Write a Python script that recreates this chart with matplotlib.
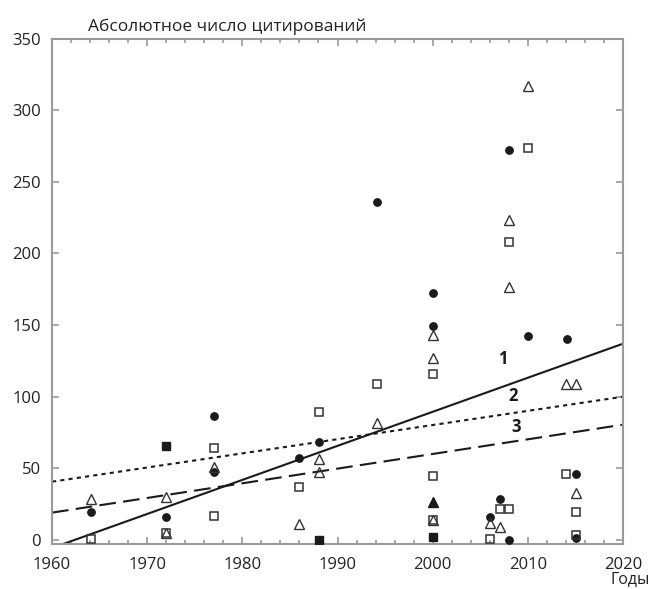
import matplotlib
matplotlib.use("Agg")
import matplotlib.pyplot as plt
from matplotlib.ticker import MultipleLocator

plt.rcParams["font.family"] = ["Open Sans", "DejaVu Sans"]

# --- data -----------------------------------------------------------------

CIRCLE_YEARS = [1964.1, 1972.0, 1977.0, 1977.0, 1986.0, 1988.1, 1994.1, 2000.0, 2000.0,
                2006.0, 2007.1, 2008.0, 2008.0, 2010.0, 2014.1, 2015.1, 2015.1]
CIRCLE_VALUES = [19.4, 16.3, 86.7, 47.8, 56.9, 68.5, 236.0, 172.1, 149.3,
                 16.3, 28.5, 272.2, 0.0, 142.7, 140.3, 46.2, 1.2]

SQUARE_YEARS = [1964.1, 1972.0, 1977.0, 1977.0, 1986.0, 1988.1, 1994.1, 2000.0, 2000.0, 2000.0,
                2006.0, 2007.1, 2008.0, 2008.0, 2010.0, 2014.0, 2015.1, 2015.1]
SQUARE_VALUES = [0.5, 5.1, 64.1, 17.0, 37.3, 89.5, 108.8, 115.8, 44.8, 14.0,
                 0.5, 21.5, 208.2, 21.5, 273.9, 46.2, 19.4, 3.5]

TRIANGLE_YEARS = [1964.1, 1972.0, 1972.0, 1977.0, 1986.0, 1988.1, 1988.1, 1994.1, 2000.0, 2000.0,
                  2000.0, 2006.0, 2007.1, 2008.0, 2008.0, 2010.0, 2014.0, 2015.1, 2015.1]
TRIANGLE_VALUES = [28.5, 29.9, 5.1, 50.8, 11.2, 56.4, 47.8, 81.6, 143.0, 127.2,
                   14.0, 11.6, 9.3, 223.3, 176.7, 316.6, 108.6, 108.6, 33.1]

FILLED_SQUARE_YEARS = [1972.0, 1988.1, 2000.0]
FILLED_SQUARE_VALUES = [65.9, 0.0, 2.3]

FILLED_TRIANGLE_YEARS = [2000.0]
FILLED_TRIANGLE_VALUES = [26.8]

# trend lines 1, 2, 3 (values at the ends of the x range)
TREND_YEARS = [1960, 2020]
TREND_1 = [-5.6, 137.0]
TREND_2 = [40.7, 100.0]
TREND_3 = [19.1, 80.5]

LABEL_POS = {"1": (2007.4, 126.0), "2": (2008.4, 100.7), "3": (2008.8, 78.8)}

INK = "#1a1a1a"
AXIS_GRAY = "#9a9a9a"

# --- plot ------------------------------------------------------------------

fig = plt.figure(figsize=(6.52, 5.89), dpi=100)
ax = fig.add_axes([0.0798, 0.0764, 0.8757, 0.8582])

ax.plot(TREND_YEARS, TREND_1, color=INK, lw=1.5, zorder=2)
ax.plot(TREND_YEARS, TREND_2, color=INK, lw=1.5, ls=(0, (2, 2)), zorder=2)
ax.plot(TREND_YEARS, TREND_3, color=INK, lw=1.5, ls=(0, (8, 3.5)), zorder=2)

ax.plot(CIRCLE_YEARS, CIRCLE_VALUES, "o", ms=5.3, mfc=INK, mec=INK, zorder=3)
ax.plot(SQUARE_YEARS, SQUARE_VALUES, "s", ms=5.5, mfc="none", mec="#333333", mew=1.1, zorder=3)
ax.plot(TRIANGLE_YEARS, TRIANGLE_VALUES, "^", ms=7, mfc="none", mec="#333333", mew=1.0, zorder=3)
ax.plot(FILLED_SQUARE_YEARS, FILLED_SQUARE_VALUES, "s", ms=5.5, mfc=INK, mec=INK, zorder=3)
ax.plot(FILLED_TRIANGLE_YEARS, FILLED_TRIANGLE_VALUES, "^", ms=7, mfc=INK, mec=INK, zorder=3)

for txt, (x, y) in LABEL_POS.items():
    ax.text(x, y, txt, fontsize=12, fontweight="bold", color=INK,
            ha="center", va="center", zorder=4)

ax.set_xlim(1960, 2020)
ax.set_ylim(-2.8, 350)
ax.xaxis.set_major_locator(MultipleLocator(10))
ax.xaxis.set_minor_locator(MultipleLocator(2))
ax.yaxis.set_major_locator(MultipleLocator(50))

for side in ax.spines.values():
    side.set_color(AXIS_GRAY)
    side.set_linewidth(1.5)

ax.tick_params(which="both", direction="in", color=AXIS_GRAY, width=1.2,
               top=True, right=True, labelsize=12, labelcolor="#222222")
ax.tick_params(which="major", length=5)
ax.tick_params(which="minor", length=3)
ax.tick_params(axis="x", pad=9)
ax.tick_params(axis="y", pad=8)

ax.text(0.063, 1.0 + 12 / 505, "Абсолютное число цитирований", transform=ax.transAxes,
        fontsize=12.5, color="#222222", ha="left", va="center")
fig.text(650 / 652, 10 / 589, "Годы", fontsize=11.5, color="#222222", ha="right", va="center")

fig.savefig("out.png", dpi=100)
